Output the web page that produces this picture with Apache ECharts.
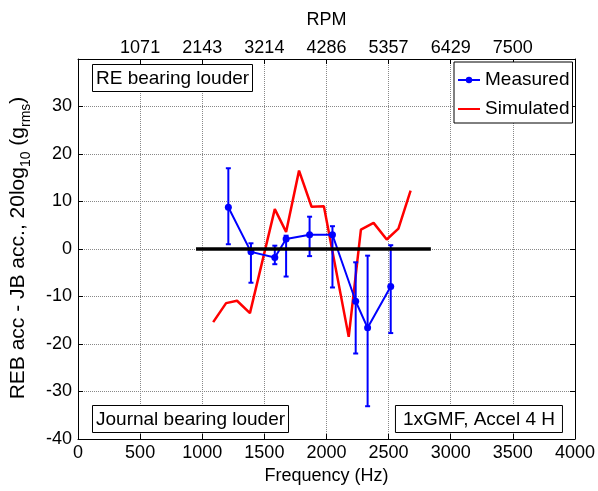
<!DOCTYPE html>
<html><head><meta charset="utf-8">
<script src="https://cdn.jsdelivr.net/npm/echarts@6/dist/echarts.min.js"></script>
<style>html,body{margin:0;padding:0;background:#fff}#c{width:598px;height:491px}</style>
</head><body><div id="c"></div>
<script>
// ---- data ----
const freqMeasured = [1210, 1392, 1584, 1675, 1864, 2048, 2235, 2331, 2517];
const measured     = [8.8, -0.6, -1.8, 2.1, 3.0, 3.0, -11.0, -16.6, -7.9];
const measuredLow  = [1.0, -7.1, -3.2, -5.8, -1.5, -8.1, -22.0, -33.1, -17.7];
const measuredHigh = [17.0, 1.2, 0.7, 2.8, 6.8, 4.8, -2.8, -1.4, 0.8];
const freqSim   = [1088, 1192, 1280, 1384, 1584, 1675, 1779, 1880, 1979, 2179, 2277, 2379, 2485, 2579, 2677];
const simulated = [-15.4, -11.4, -10.9, -13.5, 8.4, 3.6, 16.5, 8.9, 9.0, -18.5, 4.1, 5.5, 2.0, 4.3, 12.3];
const zeroLineFreq = [950, 2840];
const zeroLineVal  = [0, 0];
const freqTickLabels = ['0','500','1000','1500','2000','2500','3000','3500','4000'];
const rpmTickLabels  = ['', '1071', '2143', '3214', '4286', '5357', '6429', '7500', ''];
const yTickLabels    = ['-40','-30','-20','-10','0','10','20','30',''];
const annotations = ['RE bearing louder', 'Journal bearing louder', '1xGMF, Accel 4 H'];

const FF = '"Liberation Sans", Arial, Helvetica, sans-serif';
const zip = (a, b) => a.map((v, i) => [v, b[i]]);
const errData = freqMeasured.map((f, i) => [f, measuredLow[i], measuredHigh[i]]);

const gridLine = () => ({ show: true, lineStyle: { color: '#888888', type: 'dotted', width: 1 } });
const axisLineBlk = () => ({ show: true, onZero: false, lineStyle: { color: '#000', width: 1 } });
const tickIn = () => ({ show: true, inside: true, length: 5, lineStyle: { color: '#000', width: 1 } });
const lbl = () => ({ color: '#000', fontSize: 18, fontFamily: FF });
const boxText = { fontSize: 19, fontWeight: 'normal', color: '#000', fontFamily: FF };

const chart = echarts.init(document.getElementById('c'), null, { renderer: 'canvas' });
chart.setOption({
  backgroundColor: '#fff',
  animation: false,
  grid: { left: 76, top: 59, right: 22, bottom: 52, containLabel: false },
  title: [
    { text: annotations[0], left: 92, top: 64, padding: [5, 4, 4, 4] },
    { text: annotations[1], left: 92, top: 405, padding: [5, 4, 4, 4] },
    { text: annotations[2], right: 35, top: 405, padding: [5, 8, 4, 8] }
  ].map(t => Object.assign(t, {
    borderColor: '#000', borderWidth: 1, backgroundColor: '#fff', textStyle: boxText
  })),
  legend: {
    data: [{ name: 'Measured' }, { name: 'Simulated', itemStyle: { opacity: 0 } }],
    orient: 'vertical', left: 454, top: 62,
    padding: [8, 3, 4, 3], itemGap: 9, itemWidth: 22, itemHeight: 8,
    backgroundColor: '#fff', borderColor: '#000', borderWidth: 1,
    textStyle: { fontSize: 19, color: '#000', fontFamily: FF, lineHeight: 20 }
  },
  xAxis: [
    {
      type: 'value', position: 'bottom', min: 0, max: 4000, interval: 500,
      axisLine: axisLineBlk(), axisTick: tickIn(), splitLine: gridLine(),
      axisLabel: Object.assign({ margin: 5, formatter: v => freqTickLabels[Math.round(v / 500)] }, lbl()),
      name: 'Frequency (Hz)', nameLocation: 'middle', nameGap: 27,
      nameTextStyle: { fontSize: 18, color: '#000', fontFamily: FF }
    },
    {
      type: 'value', position: 'top', min: 0, max: 4000, interval: 500,
      axisLine: axisLineBlk(), axisTick: tickIn(), splitLine: { show: false },
      axisLabel: Object.assign({ margin: 2, formatter: v => rpmTickLabels[Math.round(v / 500)] }, lbl()),
      name: 'RPM', nameLocation: 'middle', nameGap: 30,
      nameTextStyle: { fontSize: 18, color: '#000', fontFamily: FF }
    }
  ],
  yAxis: [
    {
      type: 'value', position: 'left', min: -40, max: 40, interval: 10,
      axisLine: axisLineBlk(), axisTick: tickIn(), splitLine: gridLine(),
      axisLabel: Object.assign({ margin: 6, formatter: v => yTickLabels[Math.round((v + 40) / 10)] }, lbl()),
      name: '{t|REB acc - JB acc., 20log}{s|10}{t| (g}{s|rms}{t|)}',
      nameLocation: 'middle', nameGap: 47, nameRotate: 90,
      nameTextStyle: {
        padding: [0, 0, 0, 2],
        rich: {
          t: { fontSize: 21, lineHeight: 23, verticalAlign: 'top', color: '#000', fontFamily: FF },
          s: { fontSize: 14, lineHeight: 14, verticalAlign: 'top', padding: [11, 0, 0, 0], color: '#000', fontFamily: FF }
        }
      }
    },
    {
      type: 'value', position: 'right', min: -40, max: 40, interval: 10,
      axisLine: axisLineBlk(), axisTick: tickIn(), splitLine: { show: false },
      axisLabel: { show: false }
    }
  ],
  series: [
    {
      name: 'Simulated', type: 'line', data: zip(freqSim, simulated),
      symbol: 'none', color: '#ff0000', lineStyle: { color: '#ff0000', width: 2.5 }, z: 3
    },
    {
      name: 'Measured', type: 'line', data: zip(freqMeasured, measured),
      symbol: 'circle', symbolSize: 7, showAllSymbol: true,
      color: '#0000ff', itemStyle: { color: '#0000ff' },
      lineStyle: { color: '#0000ff', width: 2 }, z: 4
    },
    {
      name: 'MeasuredErr', type: 'custom', data: errData, z: 4,
      renderItem: function (params, api) {
        const x = api.value(0);
        const lo = api.coord([x, api.value(1)]);
        const hi = api.coord([x, api.value(2)]);
        const w = 2.5;
        const st = { stroke: '#0000ff', lineWidth: 2 };
        return {
          type: 'group', children: [
            { type: 'line', shape: { x1: lo[0], y1: lo[1], x2: hi[0], y2: hi[1] }, style: st },
            { type: 'line', shape: { x1: lo[0] - w, y1: lo[1], x2: lo[0] + w, y2: lo[1] }, style: st },
            { type: 'line', shape: { x1: hi[0] - w, y1: hi[1], x2: hi[0] + w, y2: hi[1] }, style: st }
          ]
        };
      }
    },
    {
      name: 'zero', type: 'line', data: zip(zeroLineFreq, zeroLineVal),
      symbol: 'none', lineStyle: { color: '#000', width: 3.5 }, z: 5, silent: true
    }
  ]
});
</script>
</body></html>
